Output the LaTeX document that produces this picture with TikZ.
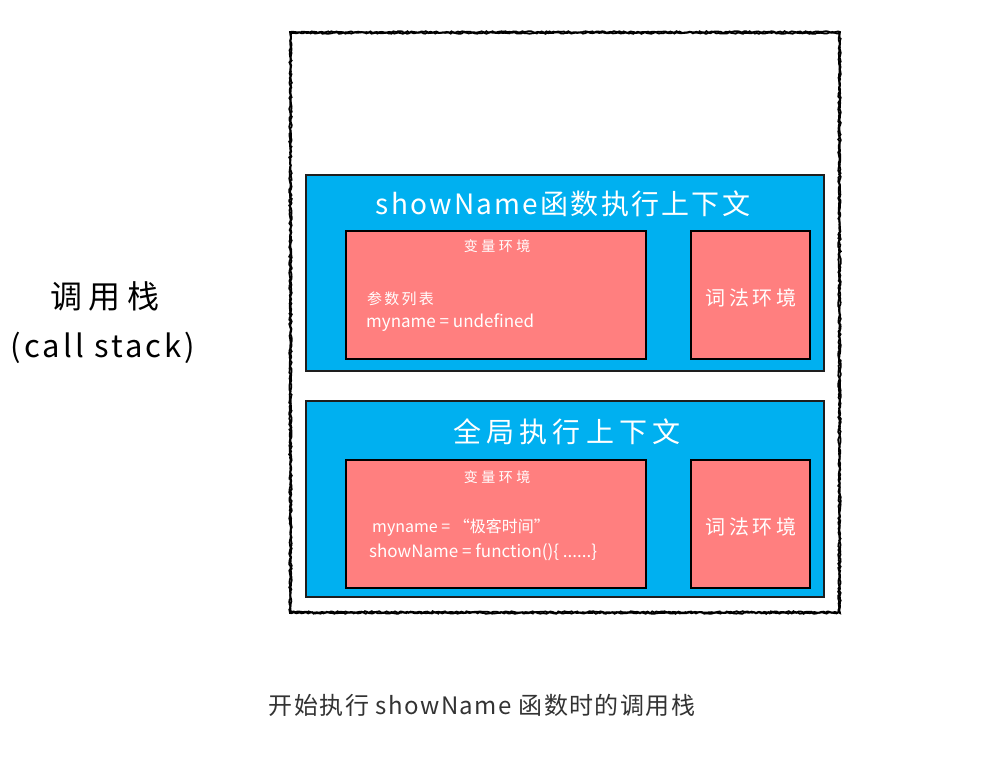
\documentclass[tikz,border=0pt]{standalone}
\usepackage{fontspec}
\setmainfont{Noto Sans CJK SC}
\usetikzlibrary{decorations.pathmorphing}
\definecolor{ctxblue}{RGB}{0,176,240}
\definecolor{envred}{RGB}{255,127,127}
\definecolor{edge}{RGB}{30,30,30}
\newcommand{\ls}[1]{\addfontfeatures{LetterSpace=#1}}
\tikzset{
  ctxbox/.style={draw=edge, line width=1.8pt, fill=ctxblue},
  envbox/.style={draw=black, line width=2.2pt, fill=envred},
  wtext/.style={text=white, inner sep=0pt},
  rough/.style={draw=black, line width=1.8pt, decorate, decoration={random steps, segment length=2pt, amplitude=0.8pt}},
}
\begin{document}
\begin{tikzpicture}[x=1pt,y=-1pt]
\useasboundingbox[fill=white] (0,0) rectangle (996,767);
% outer call stack frame
\node[draw=none, minimum width=550pt, minimum height=581pt, inner sep=0pt] (stack) at (565,322.5) {};
\draw[rough] (290,32) rectangle (840,613);
\draw[rough] (291,33) rectangle (839,612);
% top context
\node[ctxbox, minimum width=518pt, minimum height=196pt, inner sep=0pt] (ctxA) at (565,273) {};
\node[wtext, font=\fontsize{28}{28}\selectfont\ls{8}] (titleA) at (563,204) {showName函数执行上下文};
\node[envbox, minimum width=300pt, minimum height=128pt, inner sep=0pt] (varA) at (496,295) {};
\node[envbox, minimum width=119pt, minimum height=128pt, inner sep=0pt] (lexA) at (750.5,295) {};
\node[wtext, font=\fontsize{14}{14}\selectfont\ls{25}] (varAt) at (497,246) {变量环境};
\node[wtext, font=\fontsize{15}{15}\selectfont\ls{15}, anchor=west] (paramA) at (367,299) {参数列表};
\node[wtext, font=\fontsize{17}{17}\selectfont, anchor=west] (mynameA) at (366,323) {myname = undefined};
\node[wtext, font=\fontsize{20}{20}\selectfont\ls{17}] (lexAt) at (751,298) {词法环境};
% global context
\node[ctxbox, minimum width=518pt, minimum height=196pt, inner sep=0pt] (ctxB) at (565,499) {};
\node[wtext, font=\fontsize{28}{28}\selectfont\ls{18}] (titleB) at (567,432) {全局执行上下文};
\node[envbox, minimum width=300pt, minimum height=128pt, inner sep=0pt] (varB) at (496,524) {};
\node[envbox, minimum width=119pt, minimum height=128pt, inner sep=0pt] (lexB) at (750.5,524) {};
\node[wtext, font=\fontsize{14}{14}\selectfont\ls{25}] (varBt) at (497,477) {变量环境};
\node[wtext, font=\fontsize{16}{16}\selectfont, anchor=west] (mynameB) at (372,528) {myname = “极客时间”};
\node[wtext, font=\fontsize{17}{17}\selectfont, anchor=west] (showB) at (369,552) {showName = function()\{ ......\}};
\node[wtext, font=\fontsize{20}{20}\selectfont\ls{17}] (lexBt) at (751,527) {词法环境};
% left labels
\node[inner sep=0pt, font=\fontsize{32}{32}\selectfont\ls{20}] (cs1) at (105,296) {调用栈};
\node[inner sep=0pt, font=\fontsize{31}{31}\selectfont\ls{10}] (cs2) at (103,348) {(call stack)};
% caption
\node[inner sep=0pt, text=black!80, font=\fontsize{24}{24}\selectfont\ls{6}] (cap) at (482,705) {开始执行 showName 函数时的调用栈};
\end{tikzpicture}
\end{document}
